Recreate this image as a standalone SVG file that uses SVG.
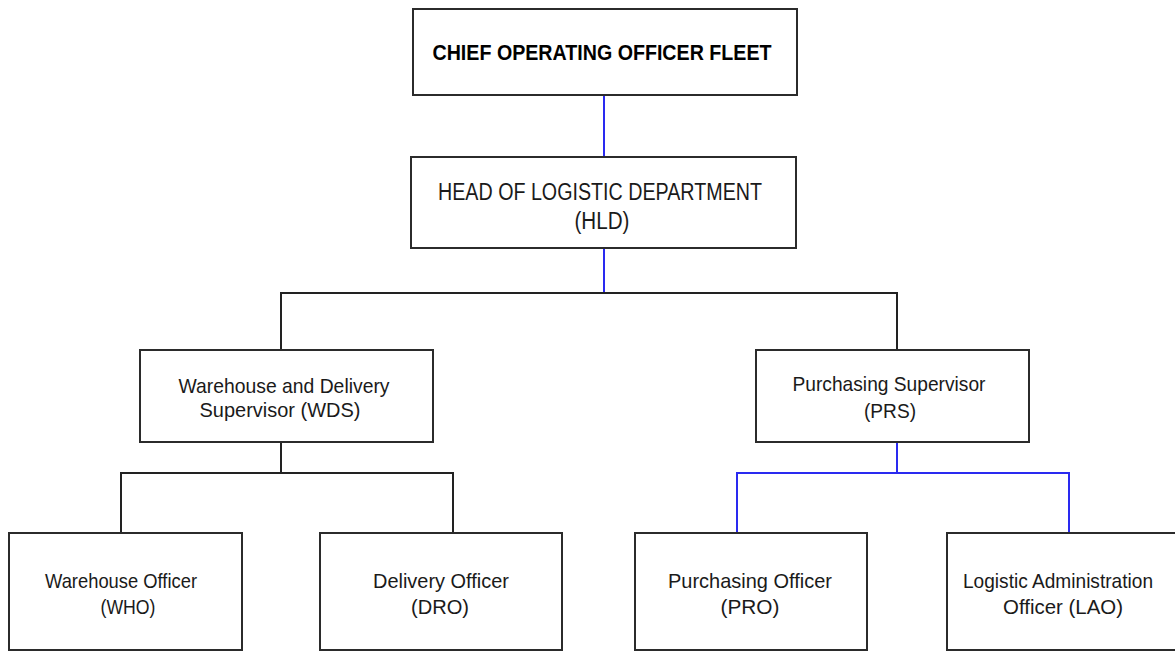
<svg xmlns="http://www.w3.org/2000/svg" width="1175" height="652" viewBox="0 0 1175 652">
  <style>
    .box { fill: #ffffff; stroke: #2b2b2b; stroke-width: 2; }
    .lbl { font-family: "Liberation Sans", Arial, sans-serif; font-size: 21px; fill: #1a1a1a; text-anchor: middle; }
    .top { font-weight: bold; font-size: 22px; fill: #000000; }
    .hld { font-size: 23px; }
    .blk { stroke: #222222; stroke-width: 2; fill: none; }
    .blu { stroke: #2a2af0; stroke-width: 2; fill: none; }
  </style>
  <rect width="1175" height="652" fill="#ffffff"/>

  <!-- reporting lines -->
  <g id="connectors">
    <line class="blu" x1="604" y1="95" x2="604" y2="157"/>
    <line class="blu" x1="604" y1="248" x2="604" y2="293"/>
    <polyline class="blk" points="281,350 281,293 897,293 897,350"/>
    <line class="blk" x1="281" y1="442" x2="281" y2="473"/>
    <polyline class="blk" points="121,533 121,473 453,473 453,533"/>
    <line class="blu" x1="897" y1="442" x2="897" y2="473"/>
    <polyline class="blu" points="737,533 737,473 1069,473 1069,533"/>
  </g>

  <g id="coo">
    <rect class="box" x="413" y="9" width="384" height="86"/>
    <text class="lbl top" x="602" y="60" textLength="339" lengthAdjust="spacingAndGlyphs">CHIEF OPERATING OFFICER FLEET</text>
  </g>

  <g id="hld">
    <rect class="box" x="411" y="157" width="385" height="91"/>
    <text class="lbl hld" x="600" y="200" textLength="324" lengthAdjust="spacingAndGlyphs">HEAD OF LOGISTIC DEPARTMENT</text>
    <text class="lbl hld" x="602" y="229" textLength="55" lengthAdjust="spacingAndGlyphs">(HLD)</text>
  </g>

  <g id="wds">
    <rect class="box" x="140" y="350" width="293" height="92"/>
    <text class="lbl" x="284" y="393" textLength="211" lengthAdjust="spacingAndGlyphs">Warehouse and Delivery</text>
    <text class="lbl" x="280" y="417" textLength="161" lengthAdjust="spacingAndGlyphs">Supervisor (WDS)</text>
  </g>

  <g id="prs">
    <rect class="box" x="756" y="350" width="273" height="92"/>
    <text class="lbl" x="889" y="391" textLength="193" lengthAdjust="spacingAndGlyphs">Purchasing Supervisor</text>
    <text class="lbl" x="890" y="418" textLength="52" lengthAdjust="spacingAndGlyphs">(PRS)</text>
  </g>

  <g id="who">
    <rect class="box" x="9" y="533" width="233" height="117"/>
    <text class="lbl" x="121" y="588" textLength="152" lengthAdjust="spacingAndGlyphs">Warehouse Officer</text>
    <text class="lbl" x="128" y="614" textLength="55" lengthAdjust="spacingAndGlyphs">(WHO)</text>
  </g>

  <g id="dro">
    <rect class="box" x="320" y="533" width="242" height="117"/>
    <text class="lbl" x="441" y="588" textLength="136" lengthAdjust="spacingAndGlyphs">Delivery Officer</text>
    <text class="lbl" x="440" y="614" textLength="58" lengthAdjust="spacingAndGlyphs">(DRO)</text>
  </g>

  <g id="pro">
    <rect class="box" x="635" y="533" width="232" height="117"/>
    <text class="lbl" x="750" y="588" textLength="164" lengthAdjust="spacingAndGlyphs">Purchasing Officer</text>
    <text class="lbl" x="750" y="614" textLength="59" lengthAdjust="spacingAndGlyphs">(PRO)</text>
  </g>

  <g id="lao">
    <rect class="box" x="947" y="533" width="240" height="117"/>
    <text class="lbl" x="1058" y="588" textLength="190" lengthAdjust="spacingAndGlyphs">Logistic Administration</text>
    <text class="lbl" x="1063" y="614" textLength="120" lengthAdjust="spacingAndGlyphs">Officer (LAO)</text>
  </g>
</svg>
